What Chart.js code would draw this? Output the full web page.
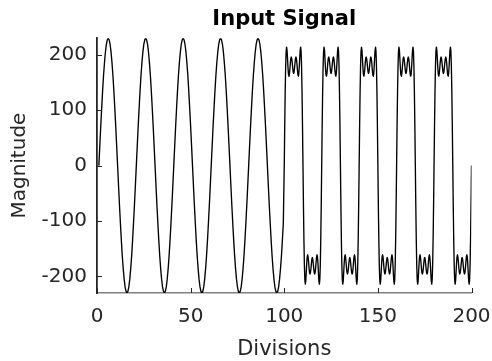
<!DOCTYPE html>
<html>
<head>
<meta charset="utf-8">
<script src="https://cdn.jsdelivr.net/npm/chart.js@4/dist/chart.umd.min.js"></script>
<style>
  html, body { margin: 0; padding: 0; background: #fff; }
  #wrap { width: 492px; height: 361px; position: relative; }
</style>
</head>
<body>
<div id="wrap"><canvas id="plot"></canvas></div>
<script>
// Sine section: sampled every 0.5 division from 1 to 99.5
const sineStart = 1;
const sineStep = 0.5;
const sineMagnitude = [
  0, 36, 71, 104, 135, 163, 186, 205, 219, 227, 230, 227, 219, 205, 186, 163, 135, 104, 71, 36,
  0, -36, -71, -104, -135, -163, -186, -205, -219, -227, -230, -227, -219, -205, -186, -163, -135, -104, -71, -36,
  0, 36, 71, 104, 135, 163, 186, 205, 219, 227, 230, 227, 219, 205, 186, 163, 135, 104, 71, 36,
  0, -36, -71, -104, -135, -163, -186, -205, -219, -227, -230, -227, -219, -205, -186, -163, -135, -104, -71, -36,
  0, 36, 71, 104, 135, 163, 186, 205, 219, 227, 230, 227, 219, 205, 186, 163, 135, 104, 71, 36,
  0, -36, -71, -104, -135, -163, -186, -205, -219, -227, -230, -227, -219, -205, -186, -163, -135, -104, -71, -36,
  0, 36, 71, 104, 135, 163, 186, 205, 219, 227, 230, 227, 219, 205, 186, 163, 135, 104, 71, 36,
  0, -36, -71, -104, -135, -163, -186, -205, -219, -227, -230, -227, -219, -205, -186, -163, -135, -104, -71, -36,
  0, 36, 71, 104, 135, 163, 186, 205, 219, 227, 230, 227, 219, 205, 186, 163, 135, 104, 71, 36,
  0, -36, -71, -104, -135, -163, -186, -205, -219, -227, -230, -227, -219, -205, -186, -163, -135, -104
];

// Square-wave section (four odd harmonics, with ripple): sampled every 0.25 division from 100 to 200
const squareStart = 100;
const squareStep = 0.25;
const squareMagnitude = [
  0, 71, 133, 179, 206, 214, 208, 193, 177, 165, 161, 165, 174, 185, 193, 196, 193, 186, 177, 169,
  166, 169, 177, 186, 193, 196, 193, 185, 174, 165, 161, 165, 177, 193, 208, 214, 206, 179, 133, 71,
  0, -71, -133, -179, -206, -214, -208, -193, -177, -165, -161, -165, -174, -185, -193, -196, -193, -186, -177, -169,
  -166, -169, -177, -186, -193, -196, -193, -185, -174, -165, -161, -165, -177, -193, -208, -214, -206, -179, -133, -71,
  0, 71, 133, 179, 206, 214, 208, 193, 177, 165, 161, 165, 174, 185, 193, 196, 193, 186, 177, 169,
  166, 169, 177, 186, 193, 196, 193, 185, 174, 165, 161, 165, 177, 193, 208, 214, 206, 179, 133, 71,
  0, -71, -133, -179, -206, -214, -208, -193, -177, -165, -161, -165, -174, -185, -193, -196, -193, -186, -177, -169,
  -166, -169, -177, -186, -193, -196, -193, -185, -174, -165, -161, -165, -177, -193, -208, -214, -206, -179, -133, -71,
  0, 71, 133, 179, 206, 214, 208, 193, 177, 165, 161, 165, 174, 185, 193, 196, 193, 186, 177, 169,
  166, 169, 177, 186, 193, 196, 193, 185, 174, 165, 161, 165, 177, 193, 208, 214, 206, 179, 133, 71,
  0, -71, -133, -179, -206, -214, -208, -193, -177, -165, -161, -165, -174, -185, -193, -196, -193, -186, -177, -169,
  -166, -169, -177, -186, -193, -196, -193, -185, -174, -165, -161, -165, -177, -193, -208, -214, -206, -179, -133, -71,
  0, 71, 133, 179, 206, 214, 208, 193, 177, 165, 161, 165, 174, 185, 193, 196, 193, 186, 177, 169,
  166, 169, 177, 186, 193, 196, 193, 185, 174, 165, 161, 165, 177, 193, 208, 214, 206, 179, 133, 71,
  0, -71, -133, -179, -206, -214, -208, -193, -177, -165, -161, -165, -174, -185, -193, -196, -193, -186, -177, -169,
  -166, -169, -177, -186, -193, -196, -193, -185, -174, -165, -161, -165, -177, -193, -208, -214, -206, -179, -133, -71,
  0, 71, 133, 179, 206, 214, 208, 193, 177, 165, 161, 165, 174, 185, 193, 196, 193, 186, 177, 169,
  166, 169, 177, 186, 193, 196, 193, 185, 174, 165, 161, 165, 177, 193, 208, 214, 206, 179, 133, 71,
  0, -71, -133, -179, -206, -214, -208, -193, -177, -165, -161, -165, -174, -185, -193, -196, -193, -186, -177, -169,
  -166, -169, -177, -186, -193, -196, -193, -185, -174, -165, -161, -165, -177, -193, -208, -214, -206, -179, -133, -71,
  0
];

// Axis ranges and tick spacing
const xRange = [0, 200];
const xTickStep = 50;
const yRange = [-230, 230];
const yTickStep = 100;

const titleText = 'Input Signal';
const xTitle = 'Divisions';
const yTitle = 'Magnitude';

// One continuous trace: sine part followed by the square-wave part
const points = [];
sineMagnitude.forEach((v, i) => points.push({ x: sineStart + i * sineStep, y: v }));
squareMagnitude.forEach((v, i) => points.push({ x: squareStart + i * squareStep, y: v }));

const FONT = 'DejaVu Sans';
const INK = '#262626';

// Tick marks drawn inside the axes, at the scale's own tick values
const innerTicks = {
  id: 'innerTicks',
  afterDatasetsDraw(chart) {
    const { ctx, chartArea: a, scales: { x, y } } = chart;
    ctx.save();
    ctx.strokeStyle = INK;
    ctx.lineWidth = 1;
    ctx.beginPath();
    y.ticks.forEach(t => {
      const py = Math.round(y.getPixelForValue(t.value)) + 0.5;
      ctx.moveTo(a.left, py);
      ctx.lineTo(a.left + 5, py);
    });
    x.ticks.forEach(t => {
      const px = Math.round(x.getPixelForValue(t.value)) + 0.5;
      ctx.moveTo(px, a.bottom);
      ctx.lineTo(px, a.bottom - 5);
    });
    ctx.stroke();
    ctx.restore();
  }
};

new Chart(document.getElementById('plot'), {
  type: 'line',
  data: {
    datasets: [{
      data: points,
      borderColor: '#000',
      borderWidth: 1.35,
      borderJoinStyle: 'round',
      pointRadius: 0,
      // a tiny tension keeps the full per-point path (no per-pixel min/max shortcut)
      tension: 0.0001,
      fill: false
    }]
  },
  options: {
    animation: false,
    responsive: true,
    maintainAspectRatio: false,
    devicePixelRatio: 1,
    parsing: false,
    layout: { padding: 0 },
    plugins: {
      legend: { display: false },
      tooltip: { enabled: false },
      title: {
        display: true,
        text: titleText,
        fullSize: false,
        color: '#000',
        font: { family: FONT, size: 21, weight: 'bold', lineHeight: 1.2 },
        padding: { top: 7, bottom: 6 }
      }
    },
    scales: {
      x: {
        type: 'linear',
        min: xRange[0],
        max: xRange[1],
        afterFit(s) { s.height = 68; s.paddingRight = 20.5; s.paddingLeft = 0; },
        ticks: {
          stepSize: xTickStep,
          includeBounds: false,
          maxRotation: 0,
          autoSkip: false,
          padding: 12,
          color: INK,
          font: { family: FONT, size: 20 }
        },
        grid: { display: false, drawTicks: false },
        border: { display: true, color: '#808080', width: 1.5 },
        title: {
          display: true,
          text: xTitle,
          color: INK,
          font: { family: FONT, size: 21, lineHeight: 1.2 },
          padding: { top: 0, bottom: -1 }
        }
      },
      y: {
        type: 'linear',
        min: yRange[0],
        max: yRange[1],
        afterFit(s) { s.width = 97; s.paddingTop = 0; s.paddingBottom = 0; },
        ticks: {
          stepSize: yTickStep,
          includeBounds: false,
          padding: 10,
          color: INK,
          font: { family: FONT, size: 20 }
        },
        grid: { display: false, drawTicks: false },
        border: { display: true, color: INK, width: 1.8 },
        title: {
          display: true,
          text: yTitle,
          color: INK,
          font: { family: FONT, size: 20, lineHeight: 1.2 },
          padding: { top: 8, bottom: 0 }
        }
      }
    }
  },
  plugins: [innerTicks]
});
</script>
</body>
</html>
